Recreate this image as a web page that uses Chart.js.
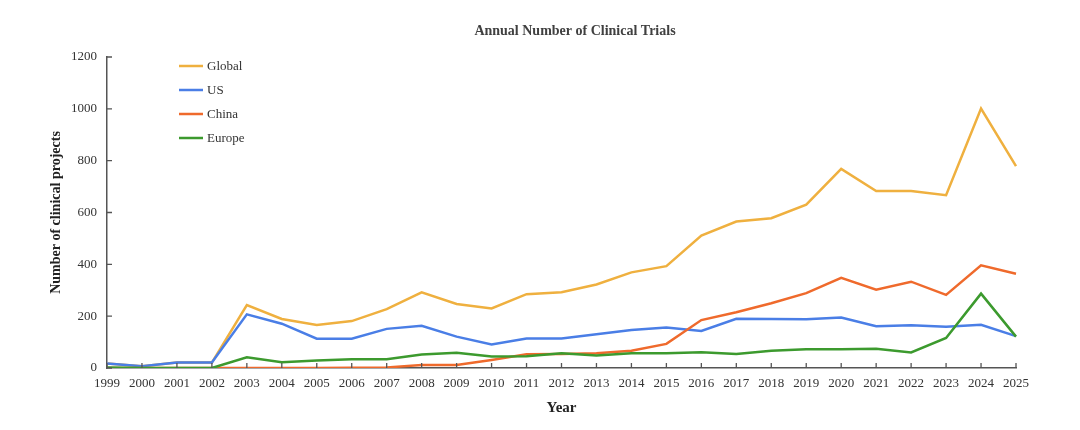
<!DOCTYPE html>
<html>
<head>
<meta charset="utf-8">
<script src="https://cdn.jsdelivr.net/npm/chart.js@4.4.0/dist/chart.umd.min.js"></script>
<style>
  html, body { margin: 0; padding: 0; background: #fff; }
  #wrap { width: 1080px; height: 430px; }
</style>
</head>
<body>
<div id="wrap"><canvas id="trialsChart" width="1080" height="430"></canvas></div>
<script>
const years = ['1999','2000','2001','2002','2003','2004','2005','2006','2007','2008','2009','2010','2011','2012',
  '2013','2014','2015','2016','2017','2018','2019','2020','2021','2022','2023','2024','2025'];
const globalCounts = [17, 7, 21, 21, 243, 189, 166, 181, 227, 292, 247, 230, 285, 292,
  322, 369, 393, 511, 565, 578, 630, 768, 683, 683, 667, 1001, 779];
const usCounts = [17, 7, 21, 21, 207, 171, 113, 113, 151, 163, 121, 91, 114, 114,
  130, 147, 156, 143, 190, 189, 188, 195, 161, 165, 159, 167, 123];
const chinaCounts = [0, 0, 0, 0, 0, 0, 0, 1, 2, 12, 12, 31, 53, 54,
  57, 67, 93, 185, 215, 250, 289, 348, 302, 333, 282, 396, 364];
const europeCounts = [2, 0, 0, 0, 41, 22, 29, 34, 34, 52, 59, 44, 45, 57,
  48, 57, 57, 61, 54, 67, 72, 72, 74, 60, 116, 287, 121];
const yTicks = [0, 200, 400, 600, 800, 1000, 1200];
const chartTitle = 'Annual Number of Clinical Trials';

const serif = "'Liberation Serif', 'Times New Roman', serif";

// title, centred a bit right of the canvas middle like the original
const topTitle = {
  id: 'topTitle',
  afterDraw(chart) {
    const ctx = chart.ctx;
    ctx.save();
    ctx.font = 'bold 14px ' + serif;
    ctx.fillStyle = '#404040';
    ctx.textAlign = 'center';
    ctx.textBaseline = 'middle';
    ctx.fillText(chartTitle, 575, 31);
    ctx.restore();
  }
};

// legend drawn inside the plot, top-left
const innerLegend = {
  id: 'innerLegend',
  afterDraw(chart) {
    const ctx = chart.ctx;
    const x0 = chart.chartArea.left + 72;
    let y = 66;
    ctx.save();
    ctx.font = '13px ' + serif;
    ctx.textBaseline = 'middle';
    chart.data.datasets.forEach(ds => {
      ctx.strokeStyle = ds.borderColor;
      ctx.lineWidth = 2.5;
      ctx.beginPath();
      ctx.moveTo(x0, y);
      ctx.lineTo(x0 + 24, y);
      ctx.stroke();
      ctx.fillStyle = '#333';
      ctx.fillText(ds.label, x0 + 28, y + 1);
      y += 24;
    });
    ctx.restore();
  }
};

// short tick marks pointing into the plot
const innerTicks = {
  id: 'innerTicks',
  afterDraw(chart) {
    const ctx = chart.ctx;
    const xs = chart.scales.x, ys = chart.scales.y;
    ctx.save();
    ctx.strokeStyle = '#555';
    ctx.lineWidth = 1.3;
    ctx.beginPath();
    ys.ticks.forEach((t, i) => {
      const py = ys.getPixelForTick(i);
      ctx.moveTo(ys.right, py);
      ctx.lineTo(ys.right + 5, py);
    });
    xs.ticks.forEach((t, i) => {
      const px = xs.getPixelForTick(i);
      ctx.moveTo(px, xs.top);
      ctx.lineTo(px, xs.top - 5);
    });
    ctx.stroke();
    ctx.restore();
  }
};

function line(label, data, color, order) {
  return {
    label: label,
    data: data,
    borderColor: color,
    backgroundColor: color,
    borderWidth: 2.5,
    pointRadius: 0,
    tension: 0,
    fill: false,
    order: order
  };
}

new Chart(document.getElementById('trialsChart'), {
  type: 'line',
  data: {
    labels: years,
    datasets: [
      line('Global', globalCounts, '#efb03f', 3),
      line('US', usCounts, '#4a7ee6', 2),
      line('China', chinaCounts, '#ef6a2c', 1),
      line('Europe', europeCounts, '#3c9a2e', 0)
    ]
  },
  plugins: [topTitle, innerLegend, innerTicks],
  options: {
    responsive: false,
    animation: false,
    devicePixelRatio: 1,
    layout: { padding: { left: 0, right: 64, top: 57, bottom: 0 } },
    plugins: {
      legend: { display: false },
      tooltip: { enabled: false },
      title: { display: false }
    },
    scales: {
      x: {
        type: 'category',
        offset: false,
        grid: { display: false, drawTicks: false },
        border: { display: true, color: '#555', width: 1.5 },
        ticks: {
          color: '#333',
          font: { family: serif, size: 13 },
          padding: 8,
          maxRotation: 0,
          autoSkip: false
        },
        title: {
          display: true,
          text: 'Year',
          color: '#222',
          font: { family: serif, size: 15, weight: 'bold' },
          padding: { top: 0, bottom: 13 }
        },
        afterFit(scale) { scale.height = 62; }
      },
      y: {
        min: 0,
        max: 1200,
        afterBuildTicks(scale) { scale.ticks = yTicks.map(v => ({ value: v })); },
        grid: { display: false, drawTicks: false },
        border: { display: true, color: '#555', width: 1.5 },
        ticks: {
          color: '#333',
          font: { family: serif, size: 13 },
          padding: 10,
          callback: v => String(v)
        },
        title: {
          display: true,
          text: 'Number of clinical projects',
          color: '#222',
          font: { family: serif, size: 14, weight: 'bold' },
          padding: { top: 48, bottom: 0 }
        },
        afterFit(scale) { scale.width = 107; }
      }
    }
  }
});
</script>
</body>
</html>
